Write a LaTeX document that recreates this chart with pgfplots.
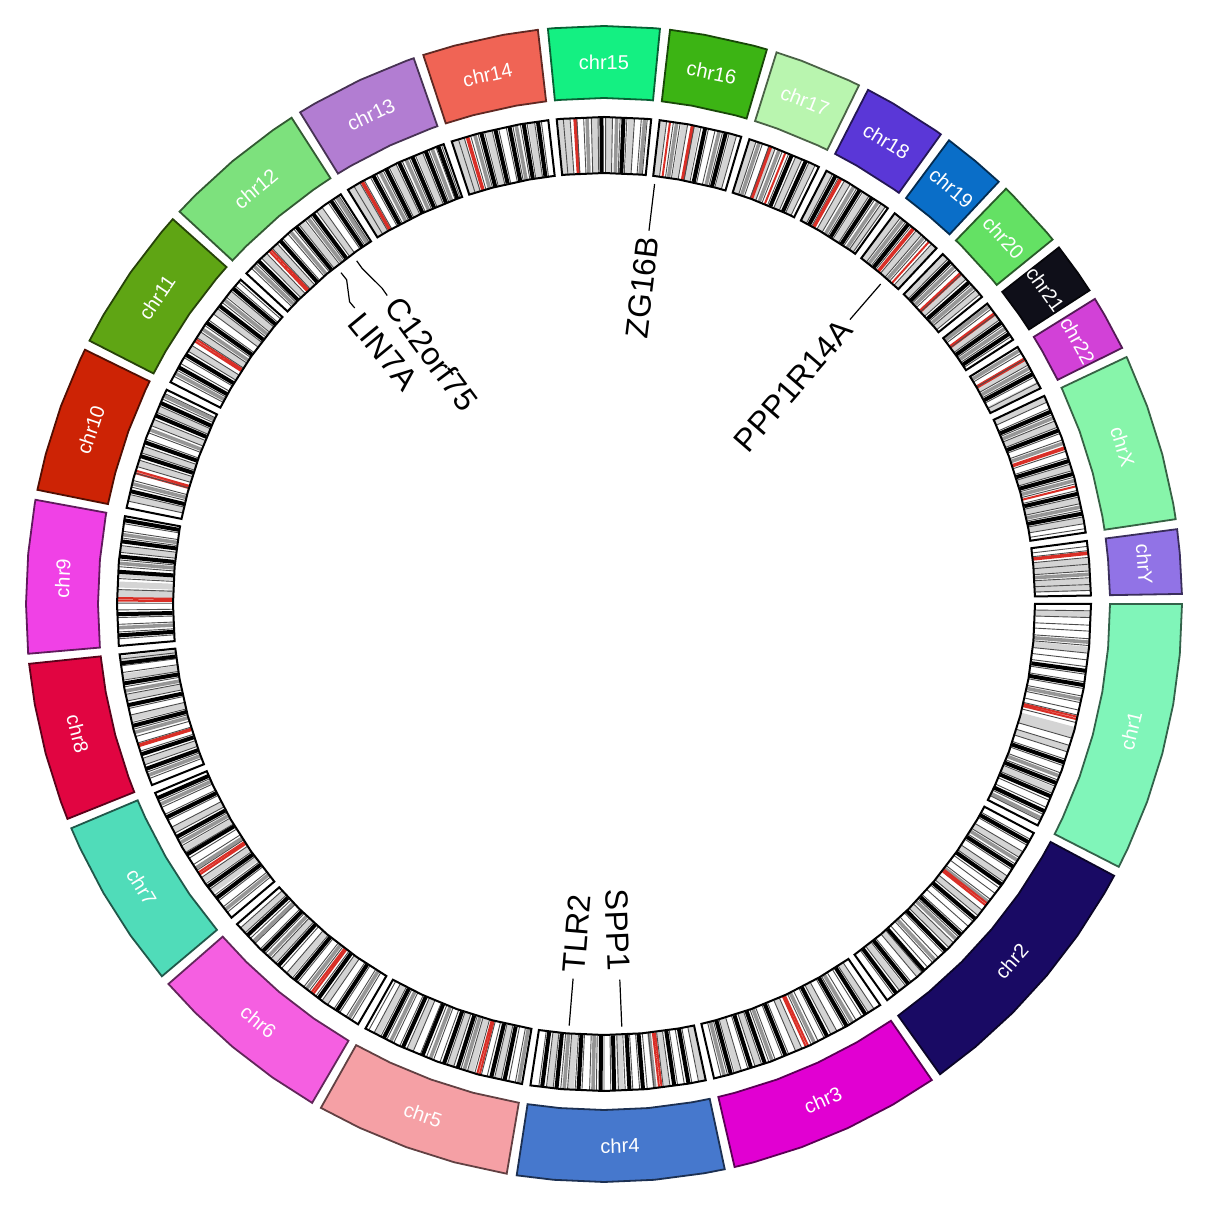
\documentclass[border=0pt]{standalone}
\usepackage{fontspec}
\setmainfont{Liberation Sans}
\usepackage{pgfplots}
\usepgfplotslibrary{polar}
\pgfplotsset{compat=1.18}

% chromosome colours
\definecolor{c1}{RGB}{128,245,185}
\definecolor{c2}{RGB}{25,10,100}
\definecolor{c3}{RGB}{225,0,210}
\definecolor{c4}{RGB}{70,120,205}
\definecolor{c5}{RGB}{245,160,165}
\definecolor{c6}{RGB}{245,95,225}
\definecolor{c7}{RGB}{80,220,185}
\definecolor{c8}{RGB}{225,5,65}
\definecolor{c9}{RGB}{240,65,230}
\definecolor{c10}{RGB}{205,35,5}
\definecolor{c11}{RGB}{95,165,20}
\definecolor{c12}{RGB}{125,225,125}
\definecolor{c13}{RGB}{178,125,210}
\definecolor{c14}{RGB}{240,100,85}
\definecolor{c15}{RGB}{20,240,130}
\definecolor{c16}{RGB}{60,180,20}
\definecolor{c17}{RGB}{185,245,175}
\definecolor{c18}{RGB}{90,55,215}
\definecolor{c19}{RGB}{10,110,200}
\definecolor{c20}{RGB}{100,225,100}
\definecolor{c21}{RGB}{15,15,25}
\definecolor{c22}{RGB}{210,65,215}
\definecolor{cX}{RGB}{135,245,170}
\definecolor{cY}{RGB}{145,115,230}
\definecolor{acen}{RGB}{217,47,39}
\definecolor{g75}{RGB}{150,150,150}
\definecolor{g50}{RGB}{212,212,212}

% sector angles (degrees, counter-clockwise from east); first/last = chromosome ends
\def\aI{360,355,350,345,340,335,332.95}
\def\aII{331.95,330,325,320,315,310,305.55}
\def\aIII{304.55,300,295,290,285,283.06}
\def\aIV{282.06,280,275,270,265,261.31}
\def\aV{260.31,255,250,245,240.67}
\def\aVI{239.67,235,230,225,221.10}
\def\aVII{220.10,215,210,205,202.83}
\def\aVIII{201.83,200,195,190,185.94}
\def\aIX{184.94,180,175,170,169.61}
\def\aX{168.61,165,160,155,153.90}
\def\aXI{152.90,150,145,140,138.25}
\def\aXII{137.25,135,130,125,122.72}
\def\aXIII{121.72,120,115,110,109.22}
\def\aXIV{108.22,105,100,96.57}
\def\aXV{95.57,95,90,85,84.44}
\def\aXVI{83.44,80,75,73.63}
\def\aXVII{72.63,70,65,63.82}
\def\aXVIII{62.82,60,55,54.35}
\def\aXIX{53.35,50,46.93}
\def\aXX{45.93,45,40,39.09}
\def\aXXI{38.09,35,32.86}
\def\aXXII{31.86,30,26.30}
\def\aXXIII{25.30,25,20,15,10,8.44}
\def\aXXIV{7.44,5,1.00}

% ring sector: #1 style, #2 outer radius, #3 inner radius, #4 angle list
\newcommand{\ringsector}[4]{%
  \gdef\outerpts{}\gdef\innerpts{}%
  \foreach \a in #4 {%
    \xdef\outerpts{\outerpts(\a,#2)}%
    \xdef\innerpts{(\a,#3)\innerpts}%
  }%
  \edef\tmp{\noexpand\addplot[#1] coordinates {\outerpts\innerpts} -- cycle;}%
  \tmp}

% cytobands: radial strokes across the ideogram track at the listed angles
\newcommand{\bands}[2]{%
  \gdef\bandpts{}%
  \foreach \a in {#2} {\xdef\bandpts{\bandpts(\a,431.5)(\a,486.5)(\a,nan)}}%
  \edef\tmp{\noexpand\addplot[#1] coordinates {\bandpts};}%
  \tmp}

\newcommand{\chrfont}{\fontsize{10}{12}\selectfont}
\newcommand{\genefont}{\fontsize{16}{19}\selectfont}

\begin{document}
\begin{tikzpicture}
\begin{polaraxis}[
  width=604pt, height=604pt, scale only axis,
  hide axis, xmin=0, xmax=360, ymin=0, ymax=604,
  clip=false, unbounded coords=jump,
]
% keep the full square around the circle
\path (axis cs:0,604) (axis cs:90,604) (axis cs:180,604) (axis cs:270,604);

% outer chromosome track
\ringsector{fill=c1, draw=c1!40!black, line width=0.9pt}{578}{506}{\aI}
\ringsector{fill=c2, draw=c2!40!black, line width=0.9pt}{578}{506}{\aII}
\ringsector{fill=c3, draw=c3!40!black, line width=0.9pt}{578}{506}{\aIII}
\ringsector{fill=c4, draw=c4!40!black, line width=0.9pt}{578}{506}{\aIV}
\ringsector{fill=c5, draw=c5!40!black, line width=0.9pt}{578}{506}{\aV}
\ringsector{fill=c6, draw=c6!40!black, line width=0.9pt}{578}{506}{\aVI}
\ringsector{fill=c7, draw=c7!40!black, line width=0.9pt}{578}{506}{\aVII}
\ringsector{fill=c8, draw=c8!40!black, line width=0.9pt}{578}{506}{\aVIII}
\ringsector{fill=c9, draw=c9!40!black, line width=0.9pt}{578}{506}{\aIX}
\ringsector{fill=c10, draw=c10!40!black, line width=0.9pt}{578}{506}{\aX}
\ringsector{fill=c11, draw=c11!40!black, line width=0.9pt}{578}{506}{\aXI}
\ringsector{fill=c12, draw=c12!40!black, line width=0.9pt}{578}{506}{\aXII}
\ringsector{fill=c13, draw=c13!40!black, line width=0.9pt}{578}{506}{\aXIII}
\ringsector{fill=c14, draw=c14!40!black, line width=0.9pt}{578}{506}{\aXIV}
\ringsector{fill=c15, draw=c15!40!black, line width=0.9pt}{578}{506}{\aXV}
\ringsector{fill=c16, draw=c16!40!black, line width=0.9pt}{578}{506}{\aXVI}
\ringsector{fill=c17, draw=c17!40!black, line width=0.9pt}{578}{506}{\aXVII}
\ringsector{fill=c18, draw=c18!40!black, line width=0.9pt}{578}{506}{\aXVIII}
\ringsector{fill=c19, draw=c19!40!black, line width=0.9pt}{578}{506}{\aXIX}
\ringsector{fill=c20, draw=c20!40!black, line width=0.9pt}{578}{506}{\aXX}
\ringsector{fill=c21, draw=c21!40!black, line width=0.9pt}{578}{506}{\aXXI}
\ringsector{fill=c22, draw=c22!40!black, line width=0.9pt}{578}{506}{\aXXII}
\ringsector{fill=cX, draw=cX!40!black, line width=0.9pt}{578}{506}{\aXXIII}
\ringsector{fill=cY, draw=cY!40!black, line width=0.9pt}{578}{506}{\aXXIV}

% ideogram bands
\bands{g50, line width=3pt}{358.8,354.6,345.0,344.4,342.7,337.5,
  329.0,325.6,320.6,315.5,310.4,307.8, 303.3,298.2,293.6,288.5,286.0,
  281.6,277.4,272.0,266.1,263.6, 257.4,254.1,251.6,246.5,242.2,
  235.0,229.7,227.2,222.1, 216.2,214.6,210.3,207.7, 198.9,193.6,191.1,188.6,186.5,
  178.9,178.6,177.7,176.5,173.5, 167.4,163.2,161.5,158.1,156.4,
  148.3,146.4,143.0,140.4, 134.3,132.6,128.4,125.8, 121.3,120.5,115.7,112.3,
  107.8,107.0,103.7,98.6, 95.1,94.4,91.1,89.4,86.8, 83.0,80.5,79.0,74.6,
  72.2,69.7,66.4,64.7, 62.4,60.0,57.4,55.0, 52.9,49.7,47.3, 45.5,42.3,39.9,
  36.1, 29.8,26.8, 24.9,21.7,16.3,12.3,9.9, 5.1,4.3,2.7,1.9}
\bands{g75, line width=1.8pt}{355.5,348.7,339.3,333.9, 328.2,322.2,316.4,312.9,
  300.7,295.6,290.2,284.3, 276.0,268.7,265.3, 259.9,253.3,249.1,244.0,
  238.4,232.3,226.4,223.9, 218.9,212.9,209.4,204.3, 200.6,195.3,190.3,
  182.8,175.2,171.8, 165.7,159.0,154.7, 151.7,145.6,141.3, 136.0,130.1,127.5,123.3,
  117.4,114.0,110.7, 105.4,100.4, 92.0,88.5,85.2, 81.4,76.3, 71.4,68.9,
  59.1,55.7, 52.1,48.9, 43.9,40.6, 37.7,34.5, 31.4,29.0, 22.5,19.3,14.7,11.5, 3.5}
\bands{black, line width=2pt}{352.1,350.4,341.0,338.4,336.7,334.8,
  330.7,327.3,324.8,319.7,317.2,314.6,311.1,308.7,306.9,
  302.5,299.9,297.3,291.9,289.3,287.6,285.1,
  280.0,278.3,274.6,273.0,271.2,269.6,267.0,264.4,262.7,
  258.2,256.6,252.5,250.8,248.1,245.6,243.1, 236.7,234.1,230.6,228.0,225.5,222.9,
  217.2,215.5,211.0,208.6,206.0,203.5, 199.8,198.0,194.5,192.0,189.4,187.0,
  183.7,181.2,176.2,174.4,172.6,170.1, 166.6,162.3,160.6,157.2,155.6,
  150.9,149.2,144.7,142.2,139.6, 135.2,131.7,129.2,126.7,124.1,
  118.3,116.6,114.9,113.2,111.5,109.9, 104.6,102.9,101.2,99.5,97.8,
  90.3,87.7, 78.0,75.5, 67.3,65.5, 61.6,58.3,56.6, 51.3, 44.7,41.4,
  35.3,33.7, 28.2, 23.3,20.9,17.1,15.5,13.1,10.7}
\bands{acen, line width=1pt}{346.6,346.3, 322.0,321.7, 294.8,294.5, 276.8,276.5,
  255.2,254.9, 233.3,233.0, 213.8,213.5, 197.0,196.8, 179.6,179.3, 164.4,164.1,
  147.3,147.0, 133.5,133.2, 119.9,119.7, 106.4,106.2, 93.5,93.3, 82.2,79.6,79.4,
  70.1,69.9,68.1, 61.0,60.8, 50.6,50.4,48.1, 42.9,42.7, 36.7,36.5, 30.3,30.1,
  18.8,18.6,14.0, 6.1,5.9}
\bands{black!70, line width=0.45pt}{
  359.2,358.4,357.5,356.8,355.9,355.1,354.2,353.4,352.6,351.7,350.8,350.0,349.1,348.3,
  347.4,346.8,345.9,344.0,343.1,342.3,341.4,340.6,339.7,338.8,338.0,337.1,336.2,335.3,334.4,333.6,
  331.1,330.3,329.4,328.6,327.7,326.9,326.0,325.2,324.3,323.5,322.6,321.0,320.2,319.3,
  318.5,317.6,316.8,315.9,315.1,314.2,313.4,312.5,311.7,310.8,310.0,309.1,308.3,307.4,306.5,
  303.7,302.9,302.0,301.2,300.3,299.5,298.6,297.8,296.9,296.1,295.2,294.0,293.2,292.3,
  291.5,290.6,289.8,288.9,288.1,287.2,286.4,285.5,284.7,283.9,
  281.2,280.4,279.5,278.7,277.8,277.0,275.9,275.1,274.2,273.4,272.5,271.7,270.8,270.0,
  269.1,268.3,267.4,266.6,265.7,264.9,264.0,263.2,262.3,
  259.5,258.7,257.8,257.0,256.1,255.4,254.6,253.7,252.9,252.0,251.2,250.3,249.5,248.6,
  247.8,246.9,246.1,245.2,244.4,243.5,242.7,241.8,241.1,
  238.8,238.0,237.1,236.3,235.4,234.6,233.7,232.7,231.9,231.0,230.2,229.3,228.5,227.6,
  226.8,225.9,225.1,224.2,223.4,222.5,221.7,
  219.3,218.5,217.6,216.8,215.9,215.1,214.2,213.2,212.4,211.5,210.7,209.8,209.0,208.1,
  207.3,206.4,205.6,204.7,203.9,
  201.0,200.2,199.3,198.5,197.6,196.6,195.8,194.9,194.1,193.2,192.4,191.5,190.7,189.8,
  189.0,188.1,187.3,186.5,
  184.1,183.3,182.4,181.6,180.7,179.9,178.3,177.0,175.6,174.8,173.9,173.1,172.2,171.4,170.5,
  167.8,167.0,166.1,165.3,164.4,163.6,162.8,161.9,161.1,160.2,159.4,158.5,157.7,156.8,156.0,155.1,154.4,
  152.1,151.3,150.4,149.6,148.7,147.9,146.8,146.0,145.1,144.3,143.4,142.6,141.7,140.9,140.0,139.2,138.6,
  136.4,135.6,134.7,133.9,133.0,132.2,131.3,130.5,129.6,128.8,127.9,127.1,126.2,125.4,124.5,123.7,123.0,
  120.9,120.1,119.5,118.7,117.9,117.0,116.2,115.3,114.5,113.6,112.8,111.9,111.1,110.2,109.5,
  107.4,106.7,105.9,105.0,104.2,103.3,102.5,101.6,100.8,99.9,99.1,98.2,97.4,
  94.8,94.0,93.2,92.4,91.5,90.7,89.8,89.0,88.1,87.3,86.4,85.6,84.9,
  82.6,81.8,81.0,80.1,79.3,78.5,77.6,76.8,75.9,75.1,74.2,
  71.8,71.0,70.2,69.4,68.5,67.7,66.8,66.0,65.1,64.3,
  62.0,61.2,60.4,59.6,58.7,57.9,57.0,56.2,55.3,54.7,
  52.5,51.7,50.9,50.1,49.3,48.5,47.7, 45.1,44.3,43.5,42.7,41.9,41.0,40.2,39.5,
  37.3,36.5,35.7,34.9,34.1,33.3, 31.0,30.2,29.4,28.6,27.8,27.0,
  24.5,23.7,22.9,22.1,21.3,20.5,19.7,18.3,17.5,16.7,15.9,15.1,14.3,13.5,12.7,11.9,11.1,10.3,9.5,8.9,
  6.8,6.3,5.5,4.7,3.9,3.1,2.3,1.6}

% ideogram outlines
\ringsector{draw=black, line width=1pt}{487}{431}{\aI}
\ringsector{draw=black, line width=1pt}{487}{431}{\aII}
\ringsector{draw=black, line width=1pt}{487}{431}{\aIII}
\ringsector{draw=black, line width=1pt}{487}{431}{\aIV}
\ringsector{draw=black, line width=1pt}{487}{431}{\aV}
\ringsector{draw=black, line width=1pt}{487}{431}{\aVI}
\ringsector{draw=black, line width=1pt}{487}{431}{\aVII}
\ringsector{draw=black, line width=1pt}{487}{431}{\aVIII}
\ringsector{draw=black, line width=1pt}{487}{431}{\aIX}
\ringsector{draw=black, line width=1pt}{487}{431}{\aX}
\ringsector{draw=black, line width=1pt}{487}{431}{\aXI}
\ringsector{draw=black, line width=1pt}{487}{431}{\aXII}
\ringsector{draw=black, line width=1pt}{487}{431}{\aXIII}
\ringsector{draw=black, line width=1pt}{487}{431}{\aXIV}
\ringsector{draw=black, line width=1pt}{487}{431}{\aXV}
\ringsector{draw=black, line width=1pt}{487}{431}{\aXVI}
\ringsector{draw=black, line width=1pt}{487}{431}{\aXVII}
\ringsector{draw=black, line width=1pt}{487}{431}{\aXVIII}
\ringsector{draw=black, line width=1pt}{487}{431}{\aXIX}
\ringsector{draw=black, line width=1pt}{487}{431}{\aXX}
\ringsector{draw=black, line width=1pt}{487}{431}{\aXXI}
\ringsector{draw=black, line width=1pt}{487}{431}{\aXXII}
\ringsector{draw=black, line width=1pt}{487}{431}{\aXXIII}
\ringsector{draw=black, line width=1pt}{487}{431}{\aXXIV}

% gene leader lines
\addplot[black, line width=0.6pt] coordinates {(83.13,423) (83.13,376)};
\addplot[black, line width=0.6pt] coordinates {(49.15,423) (49.15,376)};
\addplot[black, line width=0.6pt] coordinates {(125.78,423) (125.78,414) (125.1,386) (125.1,377)};
\addplot[black, line width=0.6pt] coordinates {(128.44,423) (128.44,414) (130.1,395) (130.1,387)};
\addplot[black, line width=0.6pt] coordinates {(265.28,423) (265.28,376)};
\addplot[black, line width=0.6pt] coordinates {(272.41,423) (272.41,376)};

% chromosome names
\begin{scope}[every node/.style={text=white, font=\chrfont, inner sep=0pt}]
\node[rotate=76.48]  at (axis cs:346.48,542) {chr1};
\node[rotate=48.75]  at (axis cs:318.75,542) {chr2};
\node[rotate=23.81]  at (axis cs:293.81,542) {chr3};
\node[rotate=1.69]   at (axis cs:271.69,542) {chr4};
\node[rotate=-19.51] at (axis cs:250.49,542) {chr5};
\node[rotate=-39.61] at (axis cs:230.39,542) {chr6};
\node[rotate=-58.53] at (axis cs:211.47,542) {chr7};
\node[rotate=-76.11] at (axis cs:193.89,542) {chr8};
\node[rotate=87.28]  at (axis cs:177.28,542) {chr9};
\node[rotate=71.26]  at (axis cs:161.26,542) {chr10};
\node[rotate=55.58]  at (axis cs:145.58,542) {chr11};
\node[rotate=39.99]  at (axis cs:129.99,542) {chr12};
\node[rotate=25.47]  at (axis cs:115.47,542) {chr13};
\node[rotate=12.40]  at (axis cs:102.40,542) {chr14};
\node[rotate=0.01]   at (axis cs:90.01,542)  {chr15};
\node[rotate=-11.46] at (axis cs:78.54,542)  {chr16};
\node[rotate=-21.77] at (axis cs:68.23,542)  {chr17};
\node[rotate=-31.41] at (axis cs:58.59,542)  {chr18};
\node[rotate=-39.86] at (axis cs:50.14,542)  {chr19};
\node[rotate=-47.49] at (axis cs:42.51,542)  {chr20};
\node[rotate=-54.52] at (axis cs:35.48,542)  {chr21};
\node[rotate=-60.92] at (axis cs:29.08,542)  {chr22};
\node[rotate=-73.13] at (axis cs:16.87,542)  {chrX};
\node[rotate=-85.78] at (axis cs:4.22,542)   {chrY};
\end{scope}

% gene names
\begin{scope}[every node/.style={font=\genefont, inner sep=0.5pt}]
\node[anchor=east, rotate=83.13]  at (axis cs:83.13,371)  {ZG16B};
\node[anchor=east, rotate=49.15]  at (axis cs:49.15,371)  {PPP1R14A};
\node[anchor=west, rotate=-53.5]  at (axis cs:124.9,371)  {C12orf75};
\node[anchor=west, rotate=-50.5]  at (axis cs:130.9,381)  {LIN7A};
\node[anchor=west, rotate=85.28]  at (axis cs:265.28,371) {TLR2};
\node[anchor=east, rotate=272.41] at (axis cs:272.41,369) {SPP1};
\end{scope}
\end{polaraxis}
\end{tikzpicture}
\end{document}
